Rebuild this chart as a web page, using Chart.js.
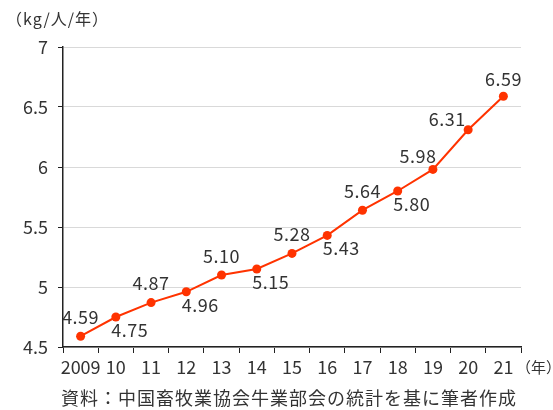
<!DOCTYPE html>
<html><head><meta charset="utf-8">
<script src="https://cdn.jsdelivr.net/npm/chart.js@4/dist/chart.umd.min.js"></script>
<style>html,body{margin:0;padding:0;background:#fff}#wrap{width:553px;height:410px;position:relative}</style>
</head><body><div id="wrap"><canvas id="c" width="553" height="410"></canvas></div>
<script>
const categories = ['2009','10','11','12','13','14','15','16','17','18','19','20','21'];
const values = [4.59,4.75,4.87,4.96,5.10,5.15,5.28,5.43,5.64,5.80,5.98,6.31,6.59];
const yTicks = [4.5,5,5.5,6,6.5,7];
const yUnit = '（kg/人/年）';
const xUnit = '（年）';
const caption = '資料：中国畜牧業協会牛業部会の統計を基に筆者作成';

const FONT = '"Noto Sans CJK JP", "Noto Sans", sans-serif';
const TXT = '#333';

const labelPlugin = {
  id: 'labels',
  afterDatasetsDraw(chart) {
    const ctx = chart.ctx;
    const meta = chart.getDatasetMeta(0);
    ctx.save();
    ctx.font = '18px ' + FONT;
    ctx.letterSpacing = '0.5px';
    ctx.fillStyle = TXT;
    ctx.textAlign = 'center';
    ctx.textBaseline = 'middle';
    const n = meta.data.length;
    meta.data.forEach((pt, i) => {
      let dx, dy;
      if (i === n - 1) { dx = 0; dy = -17; }
      else if (i === n - 2) { dx = -21; dy = -11; }
      else if (i === n - 3) { dx = -15; dy = -13; }
      else if (i % 2 === 0) { dx = 0; dy = -19; }
      else { dx = 14; dy = 13; }
      ctx.fillText(values[i].toFixed(2), pt.x + dx, pt.y + dy);
    });
    ctx.restore();
  },
  afterDraw(chart) {
    const ctx = chart.ctx;
    ctx.save();
    ctx.fillStyle = TXT;
    ctx.textBaseline = 'middle';
    ctx.font = '16px ' + FONT;
    ctx.textAlign = 'left';
    ctx.letterSpacing = '1px';
    ctx.fillText(yUnit, 6, 19);
    ctx.font = '15px ' + FONT;
    ctx.letterSpacing = '0px';
    ctx.fillText(xUnit, 516, 367);
    ctx.font = '18px ' + FONT;
    ctx.letterSpacing = '1px';
    ctx.fillText(caption, 61, 398);
    ctx.restore();
  }
};

new Chart(document.getElementById('c'), {
  type: 'line',
  data: {
    labels: categories,
    datasets: [{
      data: values,
      borderColor: '#ff3300',
      backgroundColor: '#ff3300',
      borderWidth: 2,
      pointRadius: 4.5,
      pointHoverRadius: 4.5,
      pointBorderWidth: 0,
      tension: 0
    }]
  },
  options: {
    responsive: false,
    animation: false,
    events: [],
    layout: { padding: { left: 0, top: 47, right: 32, bottom: 33 } },
    plugins: { legend: { display: false }, tooltip: { enabled: false } },
    scales: {
      x: {
        type: 'category',
        offset: true,
        afterFit(s) { s.height = 30; },
        border: { color: '#222', width: 1.5 },
        grid: {
          offset: true,
          drawOnChartArea: true,
          color: (c) => (c.index === categories.length ? '#d9d9d9' : 'rgba(0,0,0,0)'),
          tickColor: '#222',
          tickLength: 6,
          lineWidth: 1
        },
        ticks: { color: TXT, font: { family: FONT, size: 18 }, padding: 3, maxRotation: 0, autoSkip: false }
      },
      y: {
        min: 4.5, max: 7,
        afterFit(s) { s.width = 63; },
        afterBuildTicks(s) { s.ticks = yTicks.map(v => ({ value: v })); },
        border: { color: '#222', width: 1.5 },
        grid: { color: '#d9d9d9', tickColor: '#222', tickLength: 5, lineWidth: 1 },
        ticks: { color: TXT, font: { family: FONT, size: 18 }, padding: 10, callback: v => String(v) }
      }
    }
  },
  plugins: [labelPlugin]
});
</script></body></html>
